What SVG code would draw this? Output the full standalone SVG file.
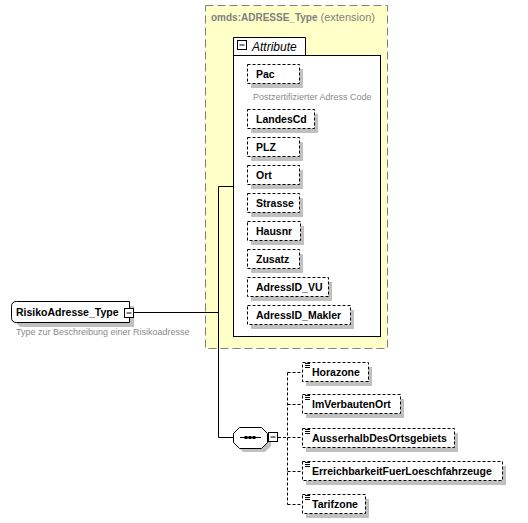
<svg xmlns="http://www.w3.org/2000/svg" width="528" height="523" viewBox="0 0 528 523">
<style>
.lbl{font-family:"Liberation Sans",Arial,sans-serif;font-size:10.5px;font-weight:bold;fill:#000}
.desc{font-family:"Liberation Sans",Arial,sans-serif;font-size:9px;fill:#8a8a8a}
.box{fill:#fff;stroke:#000;stroke-width:1;stroke-dasharray:3,2}
.sh{fill:#c0c0c0}
.ln{fill:none;stroke:#000;stroke-width:1}
.dln{fill:none;stroke:#000;stroke-width:1;stroke-dasharray:3,2}
.ico{fill:#fff;stroke:#000;stroke-width:1}
</style>
<rect width="528" height="523" fill="#fff"/>

<g id="extension">
<rect x="205.5" y="5.5" width="182" height="343" fill="#ffffc8" stroke="#808080" stroke-dasharray="8,4"/>
<text x="211" y="21" font-family="'Liberation Sans',Arial,sans-serif" font-size="10px" fill="#808080"><tspan font-weight="bold">omds:ADRESSE_Type</tspan><tspan font-size="11px" dx="3">(extension)</tspan></text>
</g>

<g id="attribute-group">
<path d="M233.5,55.5 V37.5 H305.5 V55.5" fill="#fff" stroke="#000"/>
<rect x="233.5" y="55.5" width="147" height="281" fill="#fff" stroke="#000"/>
<rect x="237.5" y="40.5" width="9" height="9" class="ico"/>
<line x1="239.5" y1="45" x2="244.5" y2="45" stroke="#000"/>
<text x="252" y="51" font-family="'Liberation Sans',Arial,sans-serif" font-size="12px" font-style="italic" fill="#000">Attribute</text>
</g>

<g id="attr-Pac"><rect x="251" y="69" width="52" height="19" class="sh"/><rect x="247.5" y="64.5" width="52" height="19" class="box"/><text x="256" y="78" class="lbl">Pac</text>
<text x="253" y="100" class="desc">Postzertifizierter Adress Code</text></g>
<g id="attr-LandesCd"><rect x="251" y="114" width="67" height="19" class="sh"/><rect x="247.5" y="109.5" width="67" height="19" class="box"/><text x="256" y="123" class="lbl">LandesCd</text></g>
<g id="attr-PLZ"><rect x="251" y="142" width="52" height="19" class="sh"/><rect x="247.5" y="137.5" width="52" height="19" class="box"/><text x="256" y="151" class="lbl">PLZ</text></g>
<g id="attr-Ort"><rect x="251" y="170" width="52" height="19" class="sh"/><rect x="247.5" y="165.5" width="52" height="19" class="box"/><text x="256" y="179" class="lbl">Ort</text></g>
<g id="attr-Strasse"><rect x="251" y="198" width="52" height="19" class="sh"/><rect x="247.5" y="193.5" width="52" height="19" class="box"/><text x="256" y="207" class="lbl">Strasse</text></g>
<g id="attr-Hausnr"><rect x="251" y="226" width="53" height="19" class="sh"/><rect x="247.5" y="221.5" width="53" height="19" class="box"/><text x="256" y="235" class="lbl">Hausnr</text></g>
<g id="attr-Zusatz"><rect x="251" y="254" width="52" height="19" class="sh"/><rect x="247.5" y="249.5" width="52" height="19" class="box"/><text x="256" y="263" class="lbl">Zusatz</text></g>
<g id="attr-AdressID_VU"><rect x="251" y="282" width="81" height="19" class="sh"/><rect x="247.5" y="277.5" width="81" height="19" class="box"/><text x="256" y="291" class="lbl">AdressID_VU</text></g>
<g id="attr-AdressID_Makler"><rect x="251" y="310" width="103" height="19" class="sh"/><rect x="247.5" y="305.5" width="103" height="19" class="box"/><text x="256" y="319" class="lbl">AdressID_Makler</text></g>

<g id="connectors">
<polyline points="133,312.5 218.5,312.5" class="ln"/>
<polyline points="233,186.5 218.5,186.5 218.5,437.5 233,437.5" class="ln"/>
<polyline points="278,437.5 287.5,437.5" class="dln"/>
<line x1="287.5" y1="372.5" x2="287.5" y2="504.5" class="dln"/>
<line x1="287.5" y1="372.5" x2="302" y2="372.5" class="dln"/>
<line x1="287.5" y1="404.5" x2="302" y2="404.5" class="dln"/>
<line x1="287.5" y1="437.5" x2="302" y2="437.5" class="dln"/>
<line x1="287.5" y1="471.5" x2="302" y2="471.5" class="dln"/>
<line x1="287.5" y1="504.5" x2="302" y2="504.5" class="dln"/>
</g>

<g id="RisikoAdresse_Type">
<path d="M20,306 H134 V327 H20 L16,323 V310 Z" class="sh"/>
<path d="M16.5,301.5 H129.5 V322.5 H16.5 Q11.5,322.5 11.5,317.5 V306.5 Q11.5,301.5 16.5,301.5 Z" fill="#fff" stroke="#000"/>
<text x="16" y="316" class="lbl">RisikoAdresse_Type</text>
<rect x="124.5" y="308.5" width="9" height="9" class="ico"/>
<line x1="126.5" y1="313" x2="131.5" y2="313" stroke="#000"/>
<text x="16" y="335" class="desc">Type zur Beschreibung einer Risikoadresse</text>
</g>

<g id="sequence">
<path d="M243,431 H265 L271,437 V446 L265,452 H243 L237,446 V437 Z" class="sh"/>
<path d="M239.5,427.5 H261.5 L267.5,433.5 V442.5 L261.5,448.5 H239.5 L233.5,442.5 V433.5 Z" fill="#fff" stroke="#000"/>
<line x1="240" y1="437.5" x2="261" y2="437.5" stroke="#000"/>
<rect x="244.5" y="436" width="3" height="3" fill="#000"/>
<rect x="248.5" y="436" width="3" height="3" fill="#000"/>
<rect x="252.5" y="436" width="3" height="3" fill="#000"/>
<rect x="268.5" y="432.5" width="9" height="9" class="ico"/>
<line x1="270.5" y1="437" x2="275.5" y2="437" stroke="#000"/>
</g>

<defs>
<g id="elico" fill="#000"><rect x="3" y="0" width="5" height="1"/><rect x="3" y="2" width="5" height="1"/><rect x="3" y="4" width="5" height="1"/></g>
</defs>

<g id="el-Horazone"><rect x="306" y="367" width="66" height="19" class="sh"/><rect x="302.5" y="362.5" width="66" height="19" class="box"/><use href="#elico" x="302" y="363"/><text x="312" y="376" class="lbl">Horazone</text></g>
<g id="el-ImVerbautenOrt"><rect x="306" y="399" width="98" height="19" class="sh"/><rect x="302.5" y="394.5" width="98" height="19" class="box"/><use href="#elico" x="302" y="395"/><text x="312" y="408" class="lbl">ImVerbautenOrt</text></g>
<g id="el-AusserhalbDesOrtsgebiets"><rect x="306" y="433" width="152" height="19" class="sh"/><rect x="302.5" y="428.5" width="152" height="19" class="box"/><use href="#elico" x="302" y="429"/><text x="312" y="442" class="lbl">AusserhalbDesOrtsgebiets</text></g>
<g id="el-ErreichbarkeitFuerLoeschfahrzeuge"><rect x="306" y="466" width="200" height="19" class="sh"/><rect x="302.5" y="461.5" width="200" height="19" class="box"/><use href="#elico" x="302" y="462"/><text x="312" y="475" class="lbl">ErreichbarkeitFuerLoeschfahrzeuge</text></g>
<g id="el-Tarifzone"><rect x="306" y="499" width="63" height="19" class="sh"/><rect x="302.5" y="494.5" width="63" height="19" class="box"/><use href="#elico" x="302" y="495"/><text x="312" y="508" class="lbl">Tarifzone</text></g>
</svg>
